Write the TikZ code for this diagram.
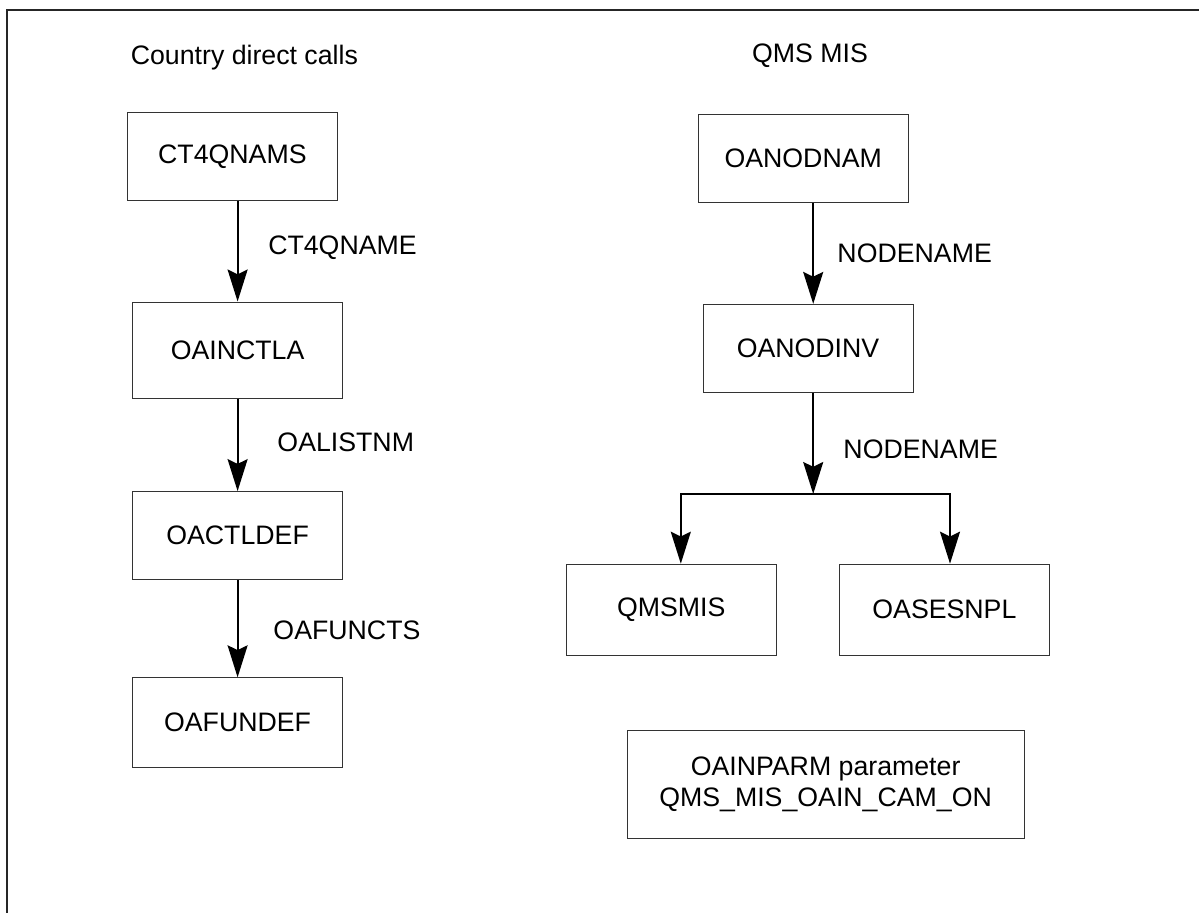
\documentclass[tikz,border=0pt]{standalone}
\usepackage{fontspec}
\setmainfont{Liberation Sans}
\usetikzlibrary{arrows.meta}

\begin{document}
\begin{tikzpicture}[
    font=\fontsize{19}{22}\selectfont,
    box/.style={rectangle, draw=black!80, line width=0.7pt, minimum width=5.25cm, minimum height=2.2cm, align=center},
    tag/.style={inner sep=0pt, anchor=west},
    title/.style={inner sep=0pt},
    arrow/.style={line width=1.4pt, -{Stealth[length=0.8cm, width=0.5cm, inset=0.12cm]}},
    frame/.style={line width=1.1pt, black!85}
]

% Page size and frame
\useasboundingbox (0,0) rectangle (29.975,-22.825);
\draw[frame] (29.975,-0.25) -- (0.175,-0.25) -- (0.175,-22.825);

% Titles
\node[title] (country) at (6.11,-1.45) {Country direct calls};
\node[title] (qms) at (20.25,-1.38) {QMS MIS};

% Country direct calls chain
\node[box] (ct4qnams) at (5.81,-3.91) {CT4QNAMS};
\node[box, minimum height=2.4cm] (oainctla) at (5.94,-8.75) {OAINCTLA};
\node[box] (oactldef) at (5.94,-13.39) {OACTLDEF};
\node[box, minimum height=2.23cm] (oafundef) at (5.94,-18.06) {OAFUNDEF};

% QMS MIS tree
\node[box] (oanodnam) at (20.08,-3.96) {OANODNAM};
\node[box] (oanodinv) at (20.2,-8.71) {OANODINV};
\node[box, minimum height=2.27cm] (qmsmis) at (16.78,-15.24) {QMSMIS};
\node[box, minimum height=2.27cm] (oasesnpl) at (23.61,-15.24) {OASESNPL};
\coordinate (split) at (20.33,-12.35);

% Parameter box
\node[box, minimum width=9.93cm, minimum height=2.68cm] (oainparm) at (20.64,-19.61) {OAINPARM parameter\\QMS\_MIS\_OAIN\_CAM\_ON};

% Arrow labels
\node[tag] (lblct4) at (6.7,-6.18) {CT4QNAME};
\node[tag] (lbllist) at (6.93,-11.05) {OALISTNM};
\node[tag] (lblfunc) at (6.83,-15.75) {OAFUNCTS};
\node[tag] (lblnode) at (20.93,-6.33) {NODENAME};
\node[tag] (lblsplit) at (21.08,-11.23) {NODENAME};

% Arrows
\draw[arrow] (ct4qnams.south -| oainctla) -- (oainctla.north);
\draw[arrow] (oainctla) -- (oactldef);
\draw[arrow] (oactldef) -- (oafundef);

\draw[arrow] (oanodnam.south -| split) -- (oanodinv.north -| split);
\draw[arrow] (oanodinv.south -| split) -- (split);
\draw[arrow] (split) -| ([xshift=0.24cm]qmsmis.north);
\draw[arrow] (split) -| ([xshift=0.14cm]oasesnpl.north);

\end{tikzpicture}
\end{document}
